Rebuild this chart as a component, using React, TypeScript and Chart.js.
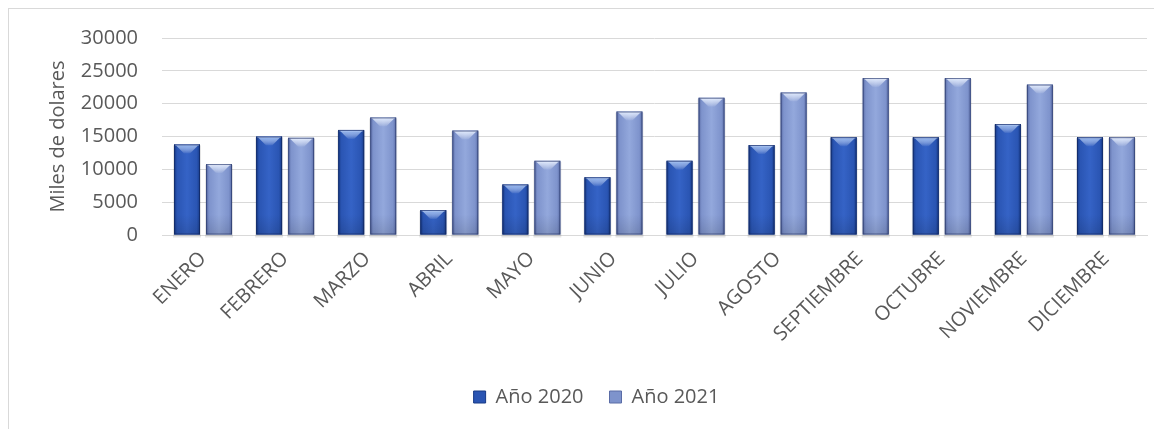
import React, { useEffect, useRef } from "react";
import { Chart, registerables } from "chart.js";

Chart.register(...registerables);

const categories = [
  "ENERO", "FEBRERO", "MARZO", "ABRIL", "MAYO", "JUNIO",
  "JULIO", "AGOSTO", "SEPTIEMBRE", "OCTUBRE", "NOVIEMBRE", "DICIEMBRE",
];
const seriesNames = ["Año 2020", "Año 2021"];
const values2020 = [13800, 15000, 16000, 3800, 7700, 8800, 11300, 13700, 14900, 14900, 16900, 14900];
const values2021 = [10800, 14800, 17900, 15900, 11300, 18800, 20900, 21700, 23900, 23900, 22900, 14900];
const yMin = 0;
const yMax = 30000;
const yStep = 5000;
const yTitle = "Miles de dolares";

const palettes = [
  { edge: "#173a86", mid: "#3563c6", light: "#8fb4f0", base: "#2a55b3" },
  { edge: "#5a6ca6", mid: "#93a8dc", light: "#e0ebff", base: "#7e93cc" },
];

const glossPlugin = {
  id: "gloss",
  afterDatasetDraw(chart: any, args: any) {
    const ctx = chart.ctx;
    const meta = args.meta;
    const pal = palettes[args.index];
    ctx.save();
    meta.data.forEach((bar: any) => {
      const w = bar.width;
      const l = bar.x - w / 2;
      const r = bar.x + w / 2;
      const top = bar.y;
      const bottom = bar.base;
      const h = bottom - top;
      if (h <= 0) return;
      ctx.fillStyle = "rgba(0,0,0,0.10)";
      ctx.fillRect(l - 1, top + 1, w + 2, h + 2);
      const g = ctx.createLinearGradient(l, 0, r, 0);
      g.addColorStop(0, pal.edge);
      g.addColorStop(0.12, pal.base);
      g.addColorStop(0.5, pal.mid);
      g.addColorStop(0.88, pal.base);
      g.addColorStop(1, pal.edge);
      ctx.fillStyle = g;
      ctx.fillRect(l, top, w, h);
      const gb = ctx.createLinearGradient(0, bottom - 20, 0, bottom);
      gb.addColorStop(0, "rgba(0,0,0,0)");
      gb.addColorStop(1, "rgba(0,0,0,0.12)");
      ctx.fillStyle = gb;
      ctx.fillRect(l, Math.max(top, bottom - 20), w, Math.min(20, h));
      const bh = Math.min(9, h);
      const gt = ctx.createLinearGradient(0, top, 0, top + bh);
      gt.addColorStop(0, pal.light);
      gt.addColorStop(1, "rgba(255,255,255,0.05)");
      ctx.fillStyle = gt;
      ctx.beginPath();
      ctx.moveTo(l + 2, top + 1);
      ctx.lineTo(r - 2, top + 1);
      ctx.lineTo(bar.x + 3, top + bh);
      ctx.lineTo(bar.x - 3, top + bh);
      ctx.closePath();
      ctx.fill();
      ctx.fillStyle = "rgba(255,255,255,0.35)";
      ctx.fillRect(l + 1, top, w - 2, 1.5);
      ctx.strokeStyle = "rgba(10,25,70,0.45)";
      ctx.lineWidth = 1;
      ctx.strokeRect(l + 0.5, top + 0.5, w - 1, h - 1);
    });
    ctx.restore();
  },
};

export default function App() {
  const ref = useRef<HTMLCanvasElement | null>(null);

  useEffect(() => {
    if (!ref.current) return;
    const font = { family: "'Open Sans', 'DejaVu Sans', sans-serif", size: 20 };
    const chart = new Chart(ref.current, {
      type: "bar",
      data: {
        labels: categories,
        datasets: [
          { label: seriesNames[0], data: values2020, backgroundColor: palettes[0].base, borderWidth: 0 },
          { label: seriesNames[1], data: values2021, backgroundColor: palettes[1].base, borderWidth: 0 },
        ],
      },
      plugins: [glossPlugin],
      options: {
        animation: false,
        responsive: false,
        devicePixelRatio: 1,
        datasets: { bar: { categoryPercentage: 0.78, barPercentage: 0.81 } },
        layout: { padding: { left: 37, right: 15, top: 29, bottom: 12 } },
        plugins: {
          tooltip: { enabled: false },
          legend: {
            position: "bottom",
            labels: {
              font,
              color: "#595959",
              boxWidth: 12,
              boxHeight: 12,
              padding: 26,
              generateLabels: (c: any) =>
                c.data.datasets.map((d: any, i: number) => ({
                  text: d.label,
                  fillStyle: palettes[i].base,
                  strokeStyle: palettes[i].edge,
                  lineWidth: 1,
                  datasetIndex: i,
                  hidden: false,
                  fontColor: "#595959",
                })),
            },
          },
        },
        scales: {
          x: {
            grid: { display: false, drawTicks: false },
            border: { display: true, color: "#d9d9d9", width: 1 },
            ticks: { font, color: "#595959", minRotation: 45, maxRotation: 45, padding: 12, autoSkip: false },
            afterFit: (s: any) => { s.height = 126; },
          },
          y: {
            min: yMin,
            max: yMax,
            grid: { color: "#d9d9d9", lineWidth: 1, drawTicks: false },
            border: { display: false },
            ticks: { stepSize: yStep, font, color: "#595959", padding: 24, callback: (v: any) => String(v) },
            title: { display: true, text: yTitle, font, color: "#595959", padding: { top: 0, bottom: 0 } },
            afterFit: (s: any) => {
              s.width = 116;
              s.paddingTop = 12;
              s.paddingBottom = 12;
            },
          },
        },
      },
    });
    return () => chart.destroy();
  }, []);

  return (
    <div
      style={{
        width: 1153,
        height: 420,
        borderTop: "1px solid #d9d9d9",
        borderLeft: "1px solid #d9d9d9",
        background: "#fff",
        overflow: "hidden",
      }}
    >
      <canvas ref={ref} width={1153} height={420} style={{ display: "block" }} />
    </div>
  );
}
